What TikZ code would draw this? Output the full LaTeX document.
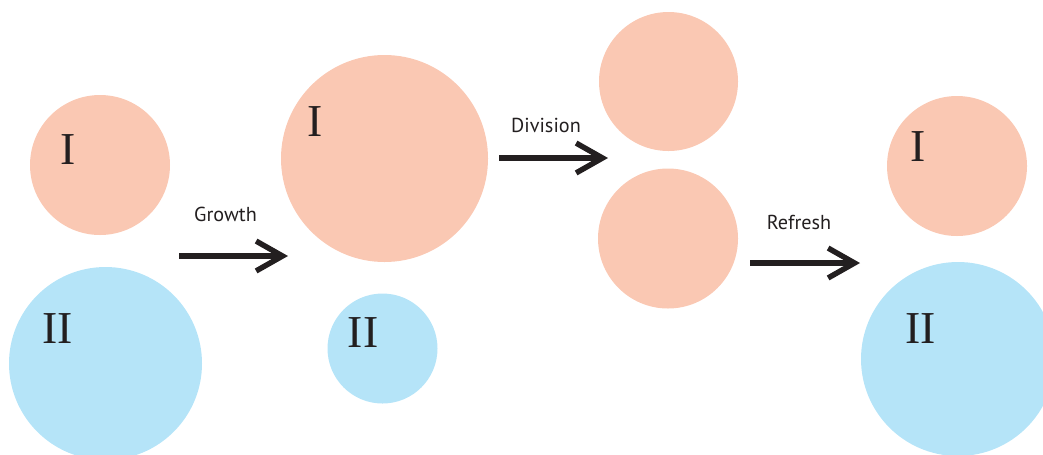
\documentclass[tikz,border=0pt]{standalone}
\usepackage{fontspec}
\setsansfont{PT Sans}
\newfontfamily\numeralfont{Liberation Serif}
\usetikzlibrary{arrows.meta}
\definecolor{cellred}{HTML}{FAC8B3}
\definecolor{cellblue}{HTML}{B5E4F8}
\definecolor{inkdark}{HTML}{231F20}
\tikzset{
  cellI/.style={circle, fill=cellred, draw=none, inner sep=0pt},
  cellII/.style={circle, fill=cellblue, draw=none, inner sep=0pt},
  numeral/.style={inner sep=0pt, text=inkdark, font=\numeralfont\fontsize{26}{26}\selectfont},
  phase/.style={line width=3.1pt, draw=inkdark, -{Straight Barb[length=15pt, width=17pt]}},
  phaselabel/.style={inner sep=0pt, text=inkdark, font=\sffamily\fontsize{11.5}{12}\selectfont}
}
\begin{document}
\begin{tikzpicture}[x=0.02cm, y=-0.02cm]
    \useasboundingbox (0,0) rectangle (1043,454);
    \clip (0,0) rectangle (1043,454);
    % Start: two cells
    \node[cellI, minimum size=140*0.02cm] (startI) at (100,165) {};
    \node[cellII, minimum size=193*0.02cm] (startII) at (105.5,363.5) {};
    \node[numeral] (startIlab) at (68.5,150) {I};
    \node[numeral] (startIIlab) at (57.5,328.5) {II};
    % After growth
    \node[cellI, minimum size=207*0.02cm] (grownI) at (384.5,158.5) {};
    \node[cellII, minimum size=110*0.02cm] (grownII) at (382.5,348.5) {};
    \node[numeral] (grownIlab) at (315,122) {I};
    \node[numeral] (grownIIlab) at (363,333) {II};
    % After division
    \node[cellI, minimum size=139*0.02cm] (divtop) at (668.5,81.5) {};
    \node[cellI, minimum size=140*0.02cm] (divbottom) at (668,238.5) {};
    % After refresh
    \node[cellI, minimum size=140*0.02cm] (freshI) at (957,166) {};
    \node[cellII, minimum size=194*0.02cm] (freshII) at (958,359) {};
    \node[numeral] (freshIlab) at (918,147) {I};
    \node[numeral] (freshIIlab) at (920.5,328.5) {II};
    % Arrows
    \coordinate (growthA) at (179,256);
    \coordinate (growthB) at (288,256);
    \draw[phase] (growthA) -- (growthB);
    \node[phaselabel] (growthlab) at (225.5,214) {Growth};
    \coordinate (divisionA) at (499,158);
    \coordinate (divisionB) at (608,158);
    \draw[phase] (divisionA) -- (divisionB);
    \node[phaselabel] (divisionlab) at (546,125) {Division};
    \coordinate (refreshA) at (750,263);
    \coordinate (refreshB) at (860,263);
    \draw[phase] (refreshA) -- (refreshB);
    \node[phaselabel] (refreshlab) at (799,222) {Refresh};
\end{tikzpicture}
\end{document}
